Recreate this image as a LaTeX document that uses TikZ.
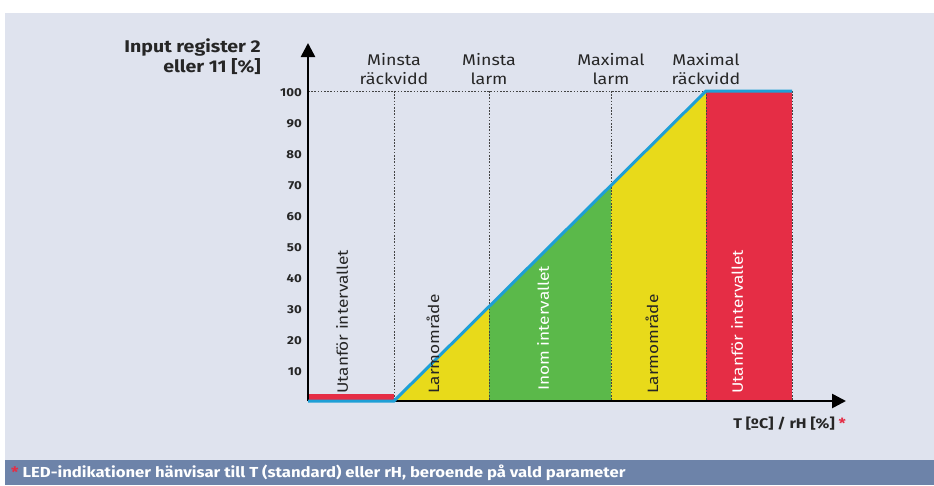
\documentclass[tikz,border=0pt]{standalone}
\usepackage{fontspec}
\setmainfont{Fira Sans}[FakeStretch=1.15]
\usetikzlibrary{arrows.meta}
\definecolor{bgc}{HTML}{DFE3EE}
\definecolor{footc}{HTML}{6D83A9}
\definecolor{redc}{HTML}{E52D45}
\definecolor{yelc}{HTML}{E8DA1A}
\definecolor{grnc}{HTML}{5BB94A}
\definecolor{bluc}{HTML}{1E9FD6}
\definecolor{dotc}{HTML}{444444}
\tikzset{
  guide/.style={draw=dotc, line width=0.8pt, dash pattern=on 1.6pt off 1.6pt},
  axisline/.style={draw=black, line width=2.6pt, -{Triangle[width=14pt,length=14pt]}},
  curve/.style={draw=bluc, line width=3pt, line join=miter},
  ticklbl/.style={anchor=east, font=\fontsize{11.5}{12}\selectfont\bfseries, inner sep=0pt, text=black!85},
  toplbl/.style={align=center, font=\fontsize{15.5}{18.5}\selectfont, inner sep=0pt, text=black!85},
  zonelbl/.style={rotate=90, anchor=west, font=\fontsize{15}{16}\selectfont, inner sep=0pt},
}
\begin{document}
\begin{tikzpicture}[x=1pt,y=-1pt]
\useasboundingbox (0,0) rectangle (934,485);
% background
\fill[bgc] (5,13) rectangle (934,460);
\fill[footc] (5,460) rectangle (934,485);
% key points
\coordinate (O) at (308,401);
\coordinate (A) at (394,401);
\coordinate (B) at (706,91);
\coordinate (C) at (792,91);
\coordinate (Yt) at (308,43);
\coordinate (Xt) at (846,401);
% fills
\fill[redc] (308,394) rectangle (394,401);
\fill[yelc] (394,401) -- (489,306.6) -- (489,401) -- cycle;
\fill[grnc] (489,401) -- (489,306.6) -- (611,185.4) -- (611,401) -- cycle;
\fill[yelc] (611,401) -- (611,185.4) -- (706,91) -- (706,401) -- cycle;
\fill[redc] (706,91) rectangle (792,401);
% guides
\draw[guide] (308,91) -- (706,91);
\foreach \gx in {394,489,611,706,792} \draw[guide] (\gx,91) -- (\gx,401);
% axes
\draw[axisline] (O) -- (Yt);
\draw[axisline] (O) -- (Xt);
% curve
\draw[curve] (O) -- (A) -- (B) -- (C);
% tick labels
\foreach \v in {10,20,...,100} \node[ticklbl] (t\v) at (302,{402.5-3.1*\v}) {\v};
% axis titles
\node[anchor=east, align=right, font=\fontsize{17}{20.5}\selectfont\bfseries, inner sep=0pt, text=black!85] (ytitle) at (261,56.5) {Input register 2\\eller 11 [\%]};
\node[anchor=base east, font=\fontsize{14}{16}\selectfont\bfseries, inner sep=0pt, text=black!85] (xtitle) at (846,428) {T [ºC] / rH [\%] \textcolor{redc}{*}};
% top labels
\node[toplbl] (l1) at (394,69) {Minsta\\räckvidd};
\node[toplbl] (l2) at (489,69) {Minsta\\larm};
\node[toplbl] (l3) at (611,69) {Maximal\\larm};
\node[toplbl] (l4) at (706,69) {Maximal\\räckvidd};
% zone labels
\node[zonelbl, text=black!85] (z1) at (342,394) {Utanför intervallet};
\node[zonelbl, text=black!85] (z2) at (433,394) {Larmområde};
\node[zonelbl, text=white] (z3) at (543,391) {Inom intervallet};
\node[zonelbl, text=black!85] (z4) at (652,394) {Larmområde};
\node[zonelbl, text=white] (z5) at (737,394) {Utanför intervallet};
% footer
\node[anchor=base west, font=\fontsize{14.5}{16}\selectfont\bfseries, text=white, inner sep=0pt] (foot) at (11,477) {\textcolor{redc}{*} LED-indikationer hänvisar till T (standard) eller rH, beroende på vald parameter};
\end{tikzpicture}
\end{document}
